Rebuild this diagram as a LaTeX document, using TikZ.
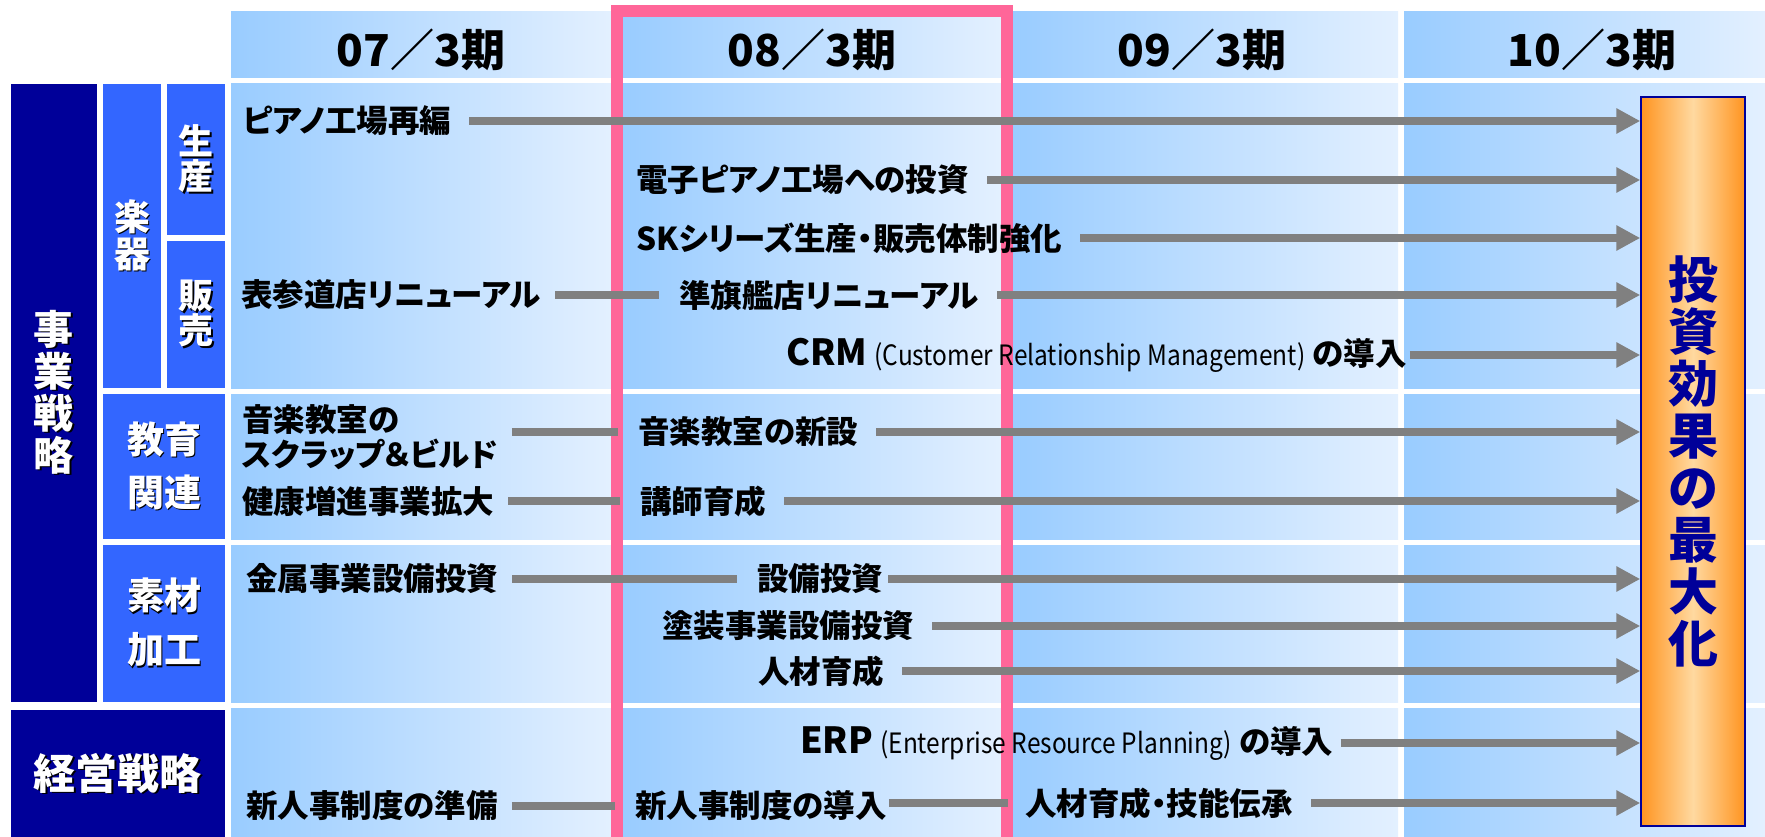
\documentclass[tikz,border=0pt]{standalone}
\usepackage{graphicx}
\usepackage{fontspec}
\setmainfont{Noto Sans CJK JP}[RawFeature=+palt]
\newfontfamily\hdfont{Noto Sans CJK JP}
\newfontfamily\latfont{Noto Sans CJK JP}[FakeStretch=0.92]
\usetikzlibrary{arrows.meta}

\definecolor{navy}{HTML}{000099}
\definecolor{catblue}{HTML}{3366FF}
\definecolor{pinkline}{HTML}{FF6699}
\definecolor{linkgray}{HTML}{808080}
\definecolor{cellleft}{HTML}{99CCFF}
\definecolor{cellright}{HTML}{E3F0FF}
\definecolor{orangeedge}{HTML}{FF9420}
\definecolor{orangemid}{HTML}{FFD9A0}

% stacked lines at exactly \baselineskip
\newcommand\vtab[1]{\vbox{\lineskiplimit=-\maxdimen\let\\\cr\halign{\hfil##\hfil\cr#1\crcr}}}
\newcommand\shadowed[1]{\makebox[0pt][l]{\kern1.5pt\raisebox{-1.5pt}{\color{black}#1}}#1}
\newcommand\abbr[2]{{\fontsize{36}{40}\selectfont #1} {\latfont\mdseries\fontsize{28}{32}\selectfont\scalebox{0.95}[1]{(#2)}} の導入}

\tikzset{
  cell/.style={left color=cellleft, right color=cellright},
  navybox/.style={fill=navy, text=white, inner sep=0pt},
  catbox/.style={fill=catblue, text=white, inner sep=0pt},
  period/.style={font=\hdfont\bfseries\fontsize{44}{46}\selectfont},
  item/.style={anchor=west, inner sep=0pt, font=\bfseries\fontsize{31.5}{35}\selectfont},
  link/.style={draw=linkgray, line width=7.5pt, shorten <=14pt, shorten >=20pt},
  flow/.style={draw=linkgray, line width=7.5pt, shorten <=18pt, -{Triangle[length=24pt,width=24pt]}},
  goalbox/.style={draw=navy, line width=1.5pt, left color=orangeedge, right color=orangeedge,
    middle color=orangemid, text=navy, inner sep=0pt, minimum width=104pt, minimum height=729pt,
    font=\bfseries\fontsize{50}{52}\selectfont},
}

\begin{document}
\begin{tikzpicture}[x=1pt,y=-1pt]
\useasboundingbox (0,0) rectangle (1765,837);

% period columns
\foreach \xa/\xb in {231/611, 623/1001, 1013/1398, 1404/1765}
  \foreach \ya/\yb in {12/78, 84/388, 394/539, 545/702, 708/837}
    \shade[cell] (\xa,\ya) rectangle (\xb,\yb);

\draw[pinkline, line width=12pt] (617,837) -- (617,11) -- (1007,11) -- (1007,837);

% strategy labels
\node[navybox, minimum width=86pt, minimum height=618pt, font=\bfseries\fontsize{40}{42}\selectfont] (jigyo) at (54,393) {\shadowed{\vtab{事\\業\\戦\\略}}};
\node[navybox, minimum width=214pt, minimum height=129pt, font=\bfseries\fontsize{42}{44}\selectfont] (keiei) at (118,774) {\shadowed{経営戦略}};
\node[catbox, minimum width=58pt, minimum height=304pt, font=\bfseries\fontsize{36}{37}\selectfont] (gakki) at (132,236) {\shadowed{\vtab{楽\\器}}};
\node[catbox, minimum width=58pt, minimum height=151pt, font=\bfseries\fontsize{35}{35}\selectfont] (seisan) at (196,159.5) {\shadowed{\vtab{生\\産}}};
\node[catbox, minimum width=58pt, minimum height=147pt, font=\bfseries\fontsize{35}{35}\selectfont] (hanbai) at (196,314.5) {\shadowed{\vtab{販\\売}}};
\node[catbox, minimum width=122pt, minimum height=145pt, font=\bfseries\fontsize{37}{53}\selectfont] (kyoiku) at (164,466.5) {\shadowed{\vtab{教育\\関連}}};
\node[catbox, minimum width=122pt, minimum height=157pt, font=\bfseries\fontsize{37}{54}\selectfont] (sozai) at (164,623.5) {\shadowed{\vtab{素材\\加工}}};

% periods
\node[period] (p07) at (421,50) {07／3期};
\node[period] (p08) at (812,50) {08／3期};
\node[period] (p09) at (1202,50) {09／3期};
\node[period] (p10) at (1592,50) {10／3期};

\node[goalbox] (goal) at (1693,461.5) {\vtab{投\\資\\効\\果\\の\\最\\大\\化}};

% measures
\node[item] (piano) at (243,121) {ピアノ工場再編};
\node[item] (denshi) at (636,180) {電子ピアノ工場への投資};
\node[item] (sk) at (636,238) {SKシリーズ生産・販売体制強化};
\node[item] (omote) at (241,295) {表参道店リニューアル};
\node[item] (junki) at (679,295) {準旗艦店リニューアル};
\node[item] (crm) at (786,355) {\abbr{CRM}{Customer Relationship Management}};
\node[item, align=left] (kyoshitsu) at (242,437) {音楽教室の\\スクラップ＆ビルド};
\node[item] (shinsetsu) at (638,432) {音楽教室の新設};
\node[item] (kenko) at (242,502) {健康増進事業拡大};
\node[item] (koshi) at (640,501) {講師育成};
\node[item] (kinzoku) at (246,579) {金属事業設備投資};
\node[item] (setsubi) at (757,579) {設備投資};
\node[item] (tosou) at (662,626) {塗装事業設備投資};
\node[item] (jinzai) at (758,671) {人材育成};
\node[item] (erp) at (800,743) {\abbr{ERP}{Enterprise Resource Planning}};
\node[item] (junbi) at (246,806) {新人事制度の準備};
\node[item] (donyu) at (635,806) {新人事制度の導入};
\node[item] (denshou) at (1025,803) {人材育成・技能伝承};

% connectors
\draw[link] (omote.east |- junki.west) -- (junki.west);
\draw[link] (kyoshitsu.east |- shinsetsu.west) -- (shinsetsu.west);
\draw[link] (kenko.east |- koshi.west) -- (koshi.west);
\draw[link] (kinzoku.east |- setsubi.west) -- (setsubi.west);
\draw[link] (junbi.east |- donyu.west) -- (donyu.west);
\draw[link, shorten <=2pt, shorten >=17pt] (donyu.east |- denshou.west) -- (denshou.west);

\foreach \src in {piano, denshi, sk, junki, shinsetsu, koshi, tosou, jinzai, denshou}
  \draw[flow] (\src.east) -- (\src.east -| goal.west);
\draw[flow, shorten <=3pt] (crm.east) -- (crm.east -| goal.west);
\draw[flow, shorten <=5pt] (setsubi.east) -- (setsubi.east -| goal.west);
\draw[flow, shorten <=7pt] (erp.east) -- (erp.east -| goal.west);
\end{tikzpicture}
\end{document}
